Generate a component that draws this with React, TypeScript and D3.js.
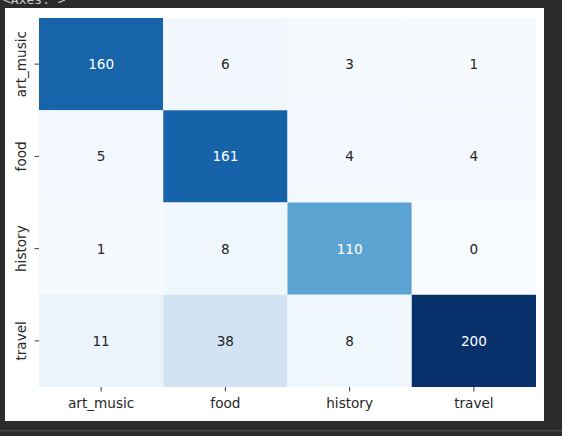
import React from "react";
import * as d3 from "d3";

const labels = ["art_music", "food", "history", "travel"];
const row_art_music = [160, 6, 3, 1];
const row_food = [5, 161, 4, 4];
const row_history = [1, 8, 110, 0];
const row_travel = [11, 38, 8, 200];
const matrix = [row_art_music, row_food, row_history, row_travel];

const bluesStops = ["#f7fbff", "#deebf7", "#c6dbef", "#9ecae1", "#6baed6", "#4292c6", "#2171b5", "#08519c", "#08306b"];

export default function App() {
  const W = 562, H = 436;
  const fig = { x: 5, y: 8, w: 539, h: 413 };
  const plot = { x0: 39, x1: 536, y0: 18, y1: 387 };
  const vmin = d3.min(matrix.flat())!;
  const vmax = d3.max(matrix.flat())!;
  const norm = d3.scaleLinear().domain([vmin, vmax]).range([0, 1]).clamp(true);
  const color = d3
    .scaleLinear<string>()
    .domain(bluesStops.map((_, i) => i / (bluesStops.length - 1)))
    .range(bluesStops)
    .interpolate(d3.interpolateRgb);
  const x = d3.scaleBand().domain(labels).range([plot.x0, plot.x1]).padding(0);
  const y = d3.scaleBand().domain(labels).range([plot.y0, plot.y1]).padding(0);
  const fs = 13.6;
  const font = "'DejaVu Sans', sans-serif";

  const textColor = (c: string) => {
    const rgb = d3.rgb(c);
    const lin = (v: number) => {
      const s = v / 255;
      return s <= 0.03928 ? s / 12.92 : Math.pow((s + 0.055) / 1.055, 2.4);
    };
    const lum = 0.2126 * lin(rgb.r) + 0.7152 * lin(rgb.g) + 0.0722 * lin(rgb.b);
    return lum > 0.408 ? "#262626" : "#ffffff";
  };

  return (
    <svg width={W} height={H} style={{ position: "absolute", left: 0, top: 0, display: "block" }}>
      <rect x={0} y={0} width={W} height={H} fill="#2b2b2b" />
      <text x={3} y={4} fontFamily="'DejaVu Sans Mono', monospace" fontSize={13} fill="#cccccc">
        {"<Axes: >"}
      </text>
      <rect x={0} y={430} width={W} height={1.5} fill="#454545" />
      <rect x={fig.x} y={fig.y} width={fig.w} height={fig.h} fill="#ffffff" />
      {matrix.map((row, i) =>
        row.map((v, j) => {
          const c = color(norm(v));
          return (
            <g key={`${i}-${j}`}>
              <rect
                x={x(labels[j])!}
                y={y(labels[i])!}
                width={x.bandwidth()}
                height={y.bandwidth()}
                fill={c}
              />
              <text
                x={x(labels[j])! + x.bandwidth() / 2}
                y={y(labels[i])! + y.bandwidth() / 2}
                dy="0.36em"
                textAnchor="middle"
                fontFamily={font}
                fontSize={fs}
                fill={textColor(c)}
              >
                {v}
              </text>
            </g>
          );
        })
      )}
      {labels.map((l) => {
        const cx = x(l)! + x.bandwidth() / 2;
        return (
          <g key={`xt-${l}`}>
            <line x1={cx} x2={cx} y1={plot.y1} y2={plot.y1 + 4.5} stroke="#262626" strokeWidth={0.9} />
            <text x={cx} y={408} textAnchor="middle" fontFamily={font} fontSize={fs} fill="#262626">
              {l}
            </text>
          </g>
        );
      })}
      {labels.map((l) => {
        const cy = y(l)! + y.bandwidth() / 2;
        return (
          <g key={`yt-${l}`}>
            <line x1={plot.x0 - 4.5} x2={plot.x0} y1={cy} y2={cy} stroke="#262626" strokeWidth={0.9} />
            <text
              transform={`translate(26,${cy}) rotate(-90)`}
              textAnchor="middle"
              fontFamily={font}
              fontSize={fs}
              fill="#262626"
            >
              {l}
            </text>
          </g>
        );
      })}
    </svg>
  );
}
